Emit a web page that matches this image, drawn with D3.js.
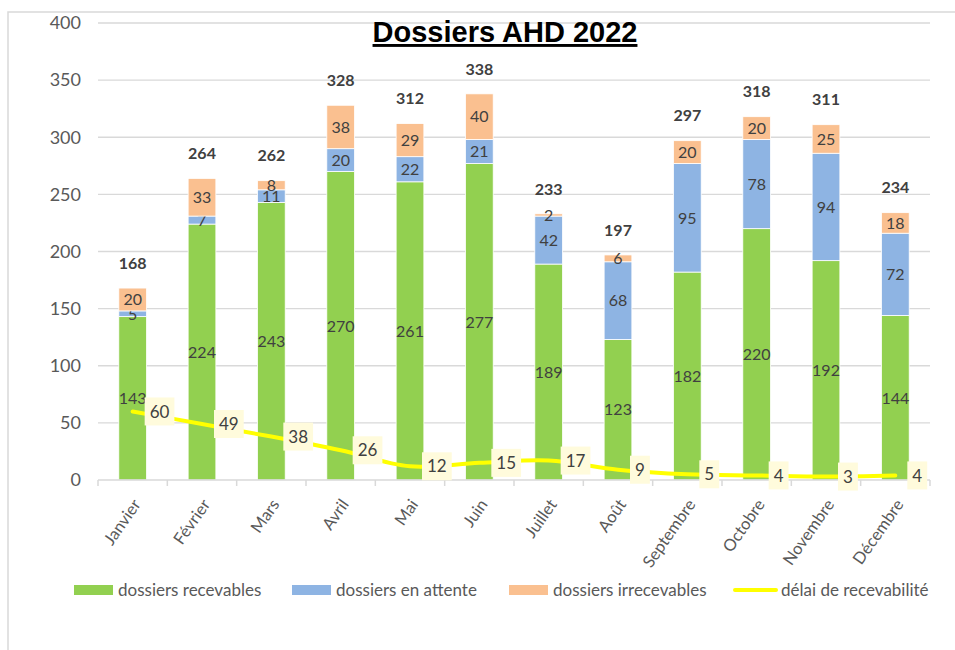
<!DOCTYPE html>
<html lang="fr">
<head>
    <meta charset="UTF-8">
    <script src="https://d3js.org/d3.v7.min.js" charset="utf-8"></script>
    <title>Dossiers AHD 2022</title>
    <style>
        body { margin: 0; background: #fff; }
        text { font-family: Lato, "Open Sans", sans-serif; }
    </style>
</head>
<body>
<div id="vis"></div>
<script>
    var months = ["Janvier", "Février", "Mars", "Avril", "Mai", "Juin", "Juillet", "Août",
                  "Septembre", "Octobre", "Novembre", "Décembre"];
    var recevables = [143, 224, 243, 270, 261, 277, 189, 123, 182, 220, 192, 144];
    var enAttente = [5, 7, 11, 20, 22, 21, 42, 68, 95, 78, 94, 72];
    var irrecevables = [20, 33, 8, 38, 29, 40, 2, 6, 20, 20, 25, 18];
    var delai = [60, 49, 38, 26, 12, 15, 17, 9, 5, 4, 3, 4];
    var yTicks = [0, 50, 100, 150, 200, 250, 300, 350, 400];
    var seriesNames = ["dossiers recevables", "dossiers en attente", "dossiers irrecevables"];
    var lineName = "délai de recevabilité";

    var width = 955,
        height = 650,
        plotLeft = 98, plotRight = 930, plotTop = 23, plotBottom = 480,
        colors = ["#92D050", "#8EB4E3", "#FAC090"],
        textColor = "#404040",
        axisColor = "#595959",
        gridColor = "#D9D9D9";

    var svg = d3.select("#vis").append("svg").attr("width", width).attr("height", height);

    // outer chart frame
    svg.append("rect").attr("x", 8).attr("y", 12).attr("width", 970).attr("height", 700)
        .style("fill", "none").style("stroke", gridColor).style("stroke-width", 1.5);

    var x = d3.scaleBand().domain(months).range([plotLeft, plotRight]).paddingInner(0.6).paddingOuter(0.3);
    var y = d3.scaleLinear().domain([0, 400]).range([plotBottom, plotTop]);

    // gridlines
    svg.append("g").selectAll("line").data(yTicks.slice(1)).enter().append("line")
        .attr("x1", plotLeft).attr("x2", plotRight)
        .attr("y1", function(d){ return y(d); }).attr("y2", function(d){ return y(d); })
        .style("stroke", gridColor).style("stroke-width", 1.3);

    // y axis labels
    var yAxis = d3.axisLeft(y).tickValues(yTicks).tickSize(0).tickPadding(17);
    var gy = svg.append("g").attr("transform", "translate(" + plotLeft + ",0)").call(yAxis);
    gy.select(".domain").remove();
    gy.selectAll("text").style("font-size", "18px").style("fill", axisColor)
        .style("font-family", "Lato, sans-serif");

    // stacked bars
    var rows = months.map(function(m, i){
        return {month: m, s0: recevables[i], s1: enAttente[i], s2: irrecevables[i]};
    });
    var stack = d3.stack().keys(["s0", "s1", "s2"])(rows);

    var layers = svg.append("g").selectAll("g").data(stack).enter().append("g")
        .style("fill", function(d, i){ return colors[i]; });

    layers.selectAll("rect").data(function(d){ return d; }).enter().append("rect")
        .attr("x", function(d){ return x(d.data.month); })
        .attr("width", x.bandwidth())
        .attr("y", function(d){ return y(d[1]); })
        .attr("height", function(d){ return y(d[0]) - y(d[1]); })
        .style("stroke", "#fff").style("stroke-width", 0.8);

    layers.selectAll("text").data(function(d){ return d; }).enter().append("text")
        .attr("x", function(d){ return x(d.data.month) + x.bandwidth() / 2; })
        .attr("y", function(d){ return y((d[0] + d[1]) / 2); })
        .attr("dy", "0.36em")
        .attr("text-anchor", "middle")
        .style("font-size", "16px").style("fill", textColor)
        .text(function(d){ return d[1] - d[0]; });

    // totals
    svg.append("g").selectAll("text").data(rows).enter().append("text")
        .attr("x", function(d){ return x(d.month) + x.bandwidth() / 2; })
        .attr("y", function(d){ return y(d.s0 + d.s1 + d.s2) - 25; })
        .attr("dy", "0.36em")
        .attr("text-anchor", "middle")
        .style("font-size", "16px").style("font-weight", "bold").style("fill", textColor)
        .text(function(d){ return d.s0 + d.s1 + d.s2; });

    // x axis
    var step = x.step();
    var gx = svg.append("g");
    gx.append("line").attr("x1", plotLeft).attr("x2", plotRight).attr("y1", plotBottom).attr("y2", plotBottom)
        .style("stroke", gridColor).style("stroke-width", 1.5);
    gx.selectAll("line.tick").data(d3.range(months.length + 1)).enter().append("line")
        .attr("class", "tick")
        .attr("x1", function(i){ return plotLeft + i * step; })
        .attr("x2", function(i){ return plotLeft + i * step; })
        .attr("y1", plotBottom).attr("y2", plotBottom + 6)
        .style("stroke", gridColor).style("stroke-width", 1.5);
    gx.selectAll("text").data(months).enter().append("text")
        .attr("transform", function(d){
            return "translate(" + (x(d) + x.bandwidth() / 2 + 4) + "," + (plotBottom + 21) + ") rotate(-55)";
        })
        .attr("text-anchor", "end")
        .attr("dy", "0.36em")
        .style("font-size", "16.5px").style("fill", axisColor)
        .text(function(d){ return d; });

    // délai line
    var cx = function(i){ return x(months[i]) + x.bandwidth() / 2; };
    var line = d3.line()
        .x(function(d, i){ return cx(i); })
        .y(function(d){ return y(d); })
        .curve(d3.curveCatmullRom.alpha(0.5));
    svg.append("path").datum(delai).attr("d", line)
        .style("fill", "none").style("stroke", "#FFFF00").style("stroke-width", 4)
        .style("stroke-linecap", "round");

    var labels = svg.append("g").selectAll("g").data(delai).enter().append("g")
        .attr("transform", function(d, i){ return "translate(" + (cx(i) + 12) + "," + y(d) + ")"; });
    labels.append("rect").style("fill", "#FFFBDC");
    labels.append("text")
        .attr("dy", "0.36em")
        .style("font-size", "17px").style("fill", textColor)
        .text(function(d){ return d; });
    labels.each(function(){
        var g = d3.select(this),
            w = g.select("text").node().getComputedTextLength();
        g.select("text").attr("x", 5);
        g.select("rect").attr("x", 0).attr("y", -14).attr("width", w + 10).attr("height", 28);
    });

    // title
    svg.append("text").attr("x", 505).attr("y", 42).attr("text-anchor", "middle")
        .style("font-family", "'Liberation Sans', Arial, sans-serif")
        .style("font-size", "29px").style("font-weight", "bold").style("fill", "#000")
        .style("text-decoration", "underline")
        .text("Dossiers AHD 2022");

    // legend
    var legendY = 590;
    var legendX = [74, 292, 509];
    var legend = svg.append("g");
    seriesNames.forEach(function(name, i){
        legend.append("rect").attr("x", legendX[i]).attr("y", legendY - 5)
            .attr("width", 39).attr("height", 10).style("fill", colors[i]);
        legend.append("text").attr("x", legendX[i] + 44).attr("y", legendY).attr("dy", "0.36em")
            .style("font-size", "17px").style("fill", axisColor).text(name);
    });
    legend.append("line").attr("x1", 735).attr("x2", 776).attr("y1", legendY).attr("y2", legendY)
        .style("stroke", "#FFFF00").style("stroke-width", 4).style("stroke-linecap", "round");
    legend.append("text").attr("x", 781).attr("y", legendY).attr("dy", "0.36em")
        .style("font-size", "17px").style("fill", axisColor).text(lineName);
</script>
</body>
</html>
